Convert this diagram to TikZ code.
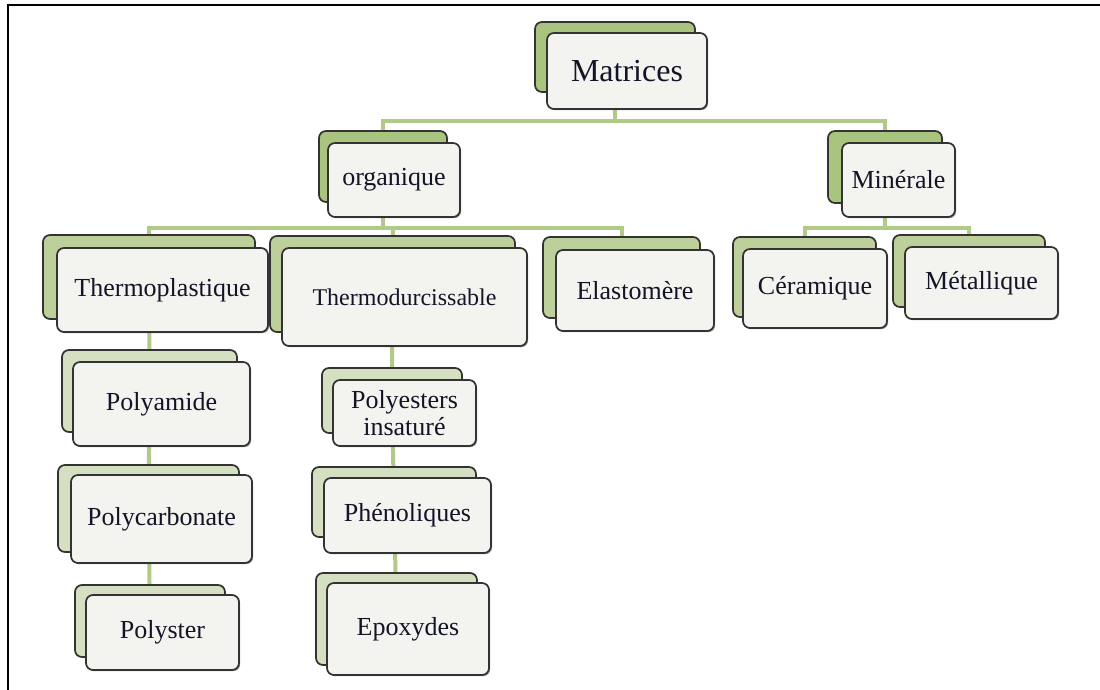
\documentclass[tikz,border=0pt]{standalone}
\usepackage{fontspec}
\setmainfont{Liberation Serif}
\usetikzlibrary{shadows, backgrounds}
\definecolor{linkgreen}{HTML}{B2CA88}
\definecolor{greenA}{HTML}{A9C47E}
\definecolor{greenB}{HTML}{BDD09C}
\definecolor{greenC}{HTML}{D5E0C2}
\definecolor{boxwhite}{HTML}{F3F4EF}
\definecolor{boxedge}{HTML}{333333}
\definecolor{labelink}{HTML}{141428}

\begin{document}
\begin{tikzpicture}[
    x=1pt, y=-1pt,
    backbox/.style={rectangle, draw=boxedge, fill=#1, line width=1.7pt,
                    rounded corners=7pt, inner sep=0pt},
    frontbox/.style={rectangle, draw=boxedge, fill=boxwhite, line width=1.7pt,
                     rounded corners=7pt, align=center, text=labelink,
                     font=\fontsize{26}{27}\selectfont, inner sep=2pt,
                     drop shadow={shadow xshift=1.2pt, shadow yshift=-1.2pt,
                                  fill=black, opacity=0.4}},
    link/.style={draw=linkgreen, line width=4pt},
  ]

  \useasboundingbox (0,0) rectangle (1100,690);
  \draw[line width=2pt] (8,690) -- (8,5) -- (1100,5);

  % Top level
  \node[backbox=greenA, minimum width=160pt, minimum height=70pt] (matB) at (615,57) {};
  \node[frontbox, minimum width=160pt, minimum height=76pt,
        font=\fontsize{32}{34}\selectfont] (mat) at (627,71) {Matrices};

  % Second level
  \node[backbox=greenA, minimum width=128pt, minimum height=71pt] (orgB) at (383,166.5) {};
  \node[frontbox, minimum width=132pt, minimum height=74pt] (org) at (394,180) {organique};
  \node[backbox=greenA, minimum width=114pt, minimum height=72pt] (minB) at (885,167) {};
  \node[frontbox, minimum width=113pt, minimum height=74pt] (min) at (898.5,180) {Minérale};

  % Third level
  \node[backbox=greenB, minimum width=212pt, minimum height=84pt] (thpB) at (149,277) {};
  \node[frontbox, minimum width=211pt, minimum height=84pt] (thp) at (162.5,290) {Thermoplastique};
  \node[backbox=greenB, minimum width=245pt, minimum height=96pt] (thdB) at (392.5,284) {};
  \node[frontbox, minimum width=245pt, minimum height=98pt,
        font=\fontsize{24}{26}\selectfont] (thd) at (404.5,297) {Thermodurcissable};
  \node[backbox=greenB, minimum width=157pt, minimum height=81pt] (elaB) at (621.5,277.5) {};
  \node[frontbox, minimum width=158pt, minimum height=81pt] (ela) at (635,290.5) {Elastomère};
  \node[backbox=greenB, minimum width=143pt, minimum height=80pt] (cerB) at (804.5,277) {};
  \node[frontbox, minimum width=144pt, minimum height=79pt] (cer) at (815,288.5) {Céramique};
  \node[backbox=greenB, minimum width=152pt, minimum height=72pt] (metB) at (969,271) {};
  \node[frontbox, minimum width=153pt, minimum height=72pt] (met) at (981.5,283) {Métallique};

  % Thermoplastique branch
  \node[backbox=greenC, minimum width=175pt, minimum height=82pt] (pamB) at (149.5,391) {};
  \node[frontbox, minimum width=177pt, minimum height=84pt] (pam) at (161.5,404) {Polyamide};
  \node[backbox=greenC, minimum width=181pt, minimum height=87pt] (pcaB) at (148.5,508.5) {};
  \node[frontbox, minimum width=181pt, minimum height=88pt] (pca) at (161.5,519) {Polycarbonate};
  \node[backbox=greenC, minimum width=150pt, minimum height=72pt] (pstB) at (150,621) {};
  \node[frontbox, minimum width=153pt, minimum height=75pt] (pst) at (162.5,632.5) {Polyster};

  % Thermodurcissable branch
  \node[backbox=greenC, minimum width=140pt, minimum height=65pt] (pinB) at (392,400.5) {};
  \node[frontbox, minimum width=143pt, minimum height=66pt] (pin) at (404.5,413) {Polyesters\\insaturé};
  \node[backbox=greenC, minimum width=164pt, minimum height=70pt] (pheB) at (394,502) {};
  \node[frontbox, minimum width=167pt, minimum height=75pt] (phe) at (407.5,515.5) {Phénoliques};
  \node[backbox=greenC, minimum width=161pt, minimum height=92pt] (epoB) at (396.5,619) {};
  \node[frontbox, minimum width=162pt, minimum height=92pt] (epo) at (408,629) {Epoxydes};

  % Connectors
  \coordinate (topbus) at (0,121);
  \coordinate (orgbus) at (0,228);
  \coordinate (minbus) at (0,228);
  \begin{pgfonlayer}{background}
    \draw[link] (matB) -- (matB |- topbus) -| (orgB);
    \draw[link] (matB |- topbus) -| (minB);
    \draw[link] (orgB) -- (orgB |- orgbus) -| (thpB);
    \draw[link] (orgB |- orgbus) -| (thdB);
    \draw[link] (orgB |- orgbus) -| (elaB);
    \draw[link] (minB) -- (minB |- minbus) -| (cerB);
    \draw[link] (minB |- minbus) -| (metB);
    \draw[link] (thpB) -- (pamB) -- (pcaB) -- (pstB);
    \draw[link] (thdB) -- (pinB) -- (pheB) -- (epoB);
  \end{pgfonlayer}

\end{tikzpicture}
\end{document}
